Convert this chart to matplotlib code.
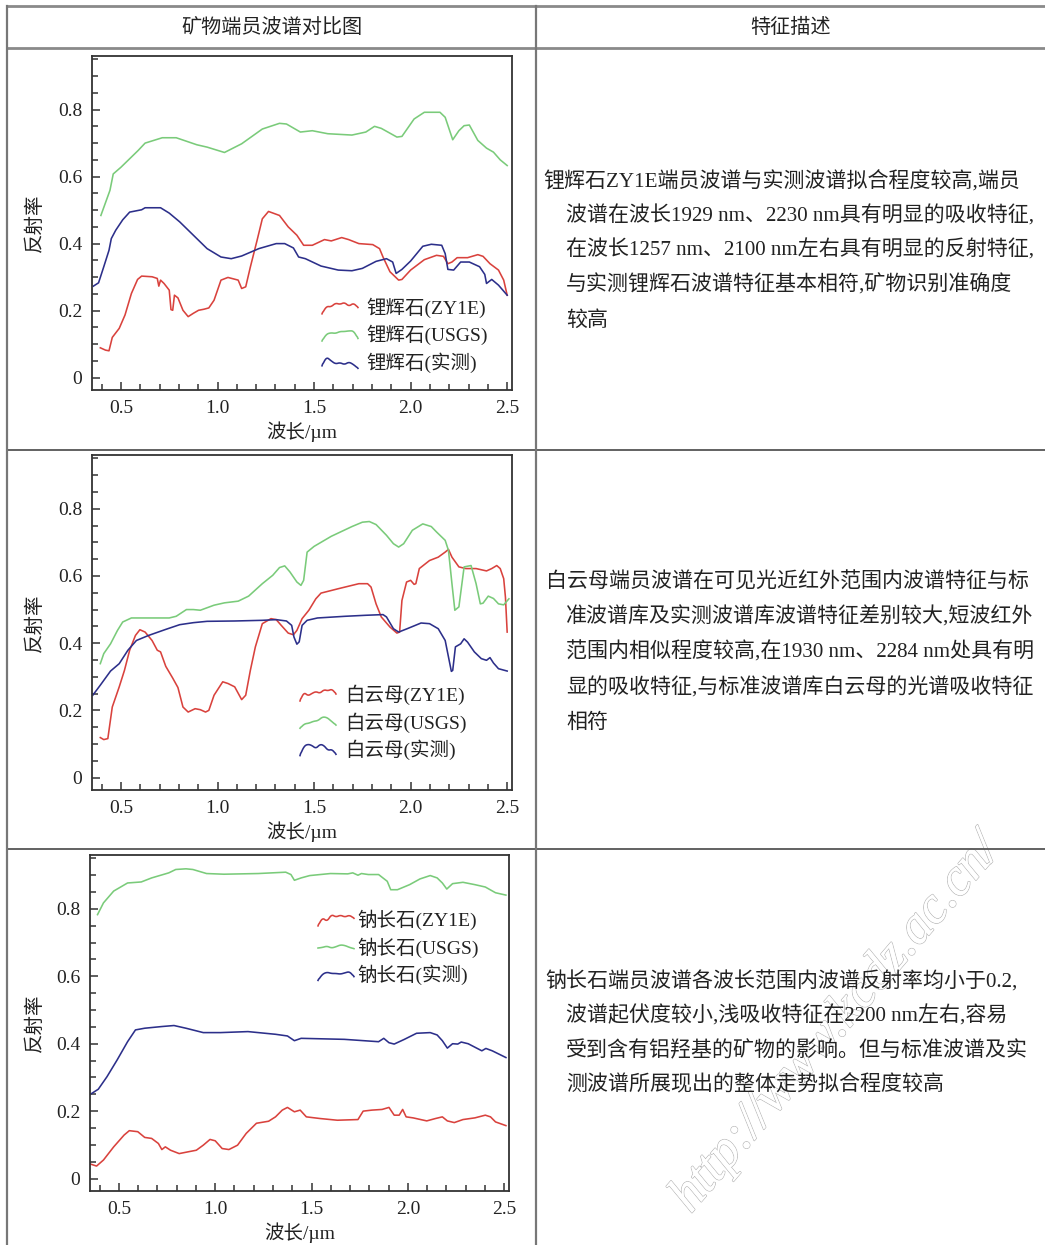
import numpy as np
import matplotlib
matplotlib.use("Agg")
import matplotlib.pyplot as plt
from matplotlib.lines import Line2D
from matplotlib.legend_handler import HandlerBase
from matplotlib.ticker import MultipleLocator, FixedLocator, FixedFormatter
import matplotlib.patheffects as pe

FAM = ['Liberation Serif', 'Noto Sans CJK SC', 'DejaVu Sans']
plt.rcParams['font.family'] = FAM

# ---------------- data ----------------
x_ticks = [0.5, 1.0, 1.5, 2.0, 2.5]
x_tick_labels = ["0.5", "1.0", "1.5", "2.0", "2.5"]
y_ticks = [0, 0.2, 0.4, 0.6, 0.8]
y_tick_labels = ["0", "0.2", "0.4", "0.6", "0.8"]
x_label = "波长/µm"
y_label = "反射率"
header_left = "矿物端员波谱对比图"
header_right = "特征描述"

# Chart 1: 锂辉石
li_labels = ["锂辉石(ZY1E)", "锂辉石(USGS)", "锂辉石(实测)"]
li_usgs_x = [0.396, 0.443, 0.46, 0.5, 0.589, 0.625, 0.714, 0.786, 0.893, 0.946, 1.036, 1.125, 1.232, 1.321, 1.357,
             1.429, 1.491, 1.571, 1.696, 1.768, 1.813, 1.848, 1.929, 1.955, 2.018, 2.071, 2.152, 2.179, 2.218, 2.25,
             2.277, 2.304, 2.348, 2.393, 2.429, 2.464, 2.5]
li_usgs_y = [0.484, 0.559, 0.608, 0.628, 0.678, 0.70, 0.716, 0.716, 0.695, 0.688, 0.672, 0.698, 0.742, 0.759, 0.757,
             0.733, 0.737, 0.728, 0.724, 0.733, 0.750, 0.744, 0.718, 0.72, 0.772, 0.792, 0.792, 0.777, 0.71, 0.737,
             0.752, 0.754, 0.708, 0.685, 0.673, 0.65, 0.633]
li_zy1e_x = [0.393, 0.42, 0.438, 0.455, 0.491, 0.521, 0.554, 0.586, 0.607, 0.661, 0.688, 0.696, 0.705, 0.723, 0.75,
             0.759, 0.768, 0.777, 0.795, 0.821, 0.848, 0.875, 0.902, 0.929, 0.955, 0.982, 1.018, 1.054, 1.107, 1.125,
             1.146, 1.17, 1.205, 1.232, 1.264, 1.321, 1.366, 1.411, 1.446, 1.491, 1.554, 1.589, 1.643, 1.679, 1.732,
             1.804, 1.839, 1.857, 1.893, 1.938, 1.955, 2.0, 2.071, 2.134, 2.17, 2.193, 2.214, 2.241, 2.295, 2.348,
             2.375, 2.411, 2.455, 2.482, 2.5]
li_zy1e_y = [0.089, 0.082, 0.080, 0.12, 0.147, 0.187, 0.251, 0.293, 0.303, 0.301, 0.296, 0.273, 0.291, 0.281, 0.261,
             0.203, 0.201, 0.246, 0.238, 0.201, 0.182, 0.192, 0.201, 0.204, 0.208, 0.231, 0.291, 0.299, 0.291, 0.266,
             0.271, 0.33, 0.41, 0.474, 0.496, 0.484, 0.45, 0.425, 0.395, 0.395, 0.412, 0.408, 0.418, 0.412, 0.40,
             0.397, 0.385, 0.36, 0.316, 0.291, 0.293, 0.321, 0.352, 0.365, 0.362, 0.34, 0.345, 0.358, 0.358, 0.367,
             0.362, 0.34, 0.321, 0.291, 0.246]
li_meas_x = [0.357, 0.384, 0.411, 0.438, 0.45, 0.473, 0.509, 0.545, 0.607, 0.625, 0.705, 0.75, 0.804, 0.875, 0.946,
             1.018, 1.071, 1.125, 1.214, 1.304, 1.348, 1.393, 1.42, 1.455, 1.536, 1.625, 1.696, 1.75, 1.821, 1.875,
             1.907, 1.925, 1.955, 2.0, 2.063, 2.107, 2.161, 2.179, 2.193, 2.223, 2.259, 2.304, 2.357, 2.384, 2.393,
             2.42, 2.455, 2.5]
li_meas_y = [0.273, 0.283, 0.331, 0.38, 0.415, 0.44, 0.471, 0.494, 0.501, 0.507, 0.507, 0.491, 0.465, 0.425, 0.385,
             0.36, 0.355, 0.363, 0.385, 0.40, 0.40, 0.387, 0.36, 0.355, 0.333, 0.321, 0.319, 0.326, 0.347, 0.355,
             0.345, 0.311, 0.323, 0.348, 0.392, 0.398, 0.395, 0.37, 0.323, 0.321, 0.345, 0.345, 0.331, 0.308, 0.281,
             0.293, 0.276, 0.246]

# Chart 2: 白云母
bai_labels = ["白云母(ZY1E)", "白云母(USGS)", "白云母(实测)"]
bai_usgs_x = [0.393, 0.411, 0.446, 0.482, 0.509, 0.554, 0.625, 0.75, 0.786, 0.839, 0.875, 0.911, 0.982, 1.036, 1.107,
              1.161, 1.232, 1.286, 1.321, 1.348, 1.375, 1.411, 1.432, 1.446, 1.464, 1.5, 1.589, 1.696, 1.75, 1.786,
              1.821, 1.875, 1.911, 1.938, 1.964, 2.009, 2.063, 2.107, 2.134, 2.179, 2.196, 2.214, 2.229, 2.25, 2.277,
              2.313, 2.339, 2.361, 2.375, 2.402, 2.429, 2.455, 2.482, 2.509]
bai_usgs_y = [0.339, 0.369, 0.398, 0.438, 0.463, 0.475, 0.475, 0.475, 0.48, 0.50, 0.50, 0.498, 0.513, 0.52, 0.525,
              0.54, 0.577, 0.602, 0.625, 0.63, 0.612, 0.582, 0.572, 0.587, 0.671, 0.688, 0.718, 0.747, 0.76, 0.762,
              0.753, 0.721, 0.696, 0.686, 0.696, 0.736, 0.755, 0.747, 0.731, 0.706, 0.676, 0.577, 0.498, 0.508, 0.627,
              0.631, 0.577, 0.517, 0.519, 0.54, 0.533, 0.517, 0.514, 0.532]
bai_zy1e_x = [0.393, 0.411, 0.432, 0.443, 0.455, 0.491, 0.518, 0.545, 0.575, 0.598, 0.625, 0.661, 0.688, 0.705, 0.732,
              0.768, 0.795, 0.821, 0.848, 0.884, 0.911, 0.938, 0.955, 0.982, 1.027, 1.054, 1.089, 1.125, 1.146, 1.17,
              1.196, 1.232, 1.277, 1.304, 1.33, 1.366, 1.393, 1.411, 1.438, 1.473, 1.509, 1.536, 1.625, 1.732, 1.777,
              1.795, 1.821, 1.848, 1.893, 1.929, 1.943, 1.955, 1.979, 2.0, 2.018, 2.027, 2.045, 2.098, 2.143, 2.179,
              2.196, 2.214, 2.25, 2.286, 2.339, 2.393, 2.42, 2.446, 2.464, 2.482, 2.491, 2.5]
bai_zy1e_y = [0.119, 0.113, 0.116, 0.161, 0.21, 0.27, 0.319, 0.379, 0.423, 0.44, 0.433, 0.408, 0.379, 0.374, 0.331,
              0.296, 0.268, 0.21, 0.195, 0.205, 0.202, 0.195, 0.2, 0.245, 0.285, 0.28, 0.27, 0.232, 0.245, 0.319,
              0.389, 0.458, 0.473, 0.47, 0.453, 0.43, 0.425, 0.438, 0.473, 0.498, 0.532, 0.549, 0.562, 0.577, 0.577,
              0.567, 0.517, 0.478, 0.448, 0.43, 0.433, 0.527, 0.582, 0.587, 0.575, 0.577, 0.622, 0.646, 0.656, 0.671,
              0.679, 0.656, 0.627, 0.622, 0.622, 0.615, 0.622, 0.631, 0.622, 0.592, 0.537, 0.433]
bai_meas_x = [0.354, 0.393, 0.446, 0.491, 0.536, 0.58, 0.643, 0.732, 0.804, 0.875, 0.946, 1.089, 1.232, 1.304, 1.357,
              1.384, 1.396, 1.411, 1.423, 1.438, 1.464, 1.518, 1.661, 1.768, 1.857, 1.875, 1.911, 1.938, 1.982, 2.054,
              2.098, 2.143, 2.179, 2.196, 2.211, 2.218, 2.232, 2.259, 2.277, 2.295, 2.33, 2.366, 2.393, 2.411, 2.429,
              2.455, 2.5]
bai_meas_y = [0.245, 0.275, 0.317, 0.339, 0.379, 0.408, 0.423, 0.441, 0.455, 0.461, 0.465, 0.466, 0.468, 0.47, 0.466,
              0.453, 0.418, 0.397, 0.404, 0.453, 0.468, 0.475, 0.48, 0.483, 0.485, 0.478, 0.443, 0.433, 0.443, 0.46,
              0.458, 0.443, 0.408, 0.359, 0.316, 0.319, 0.389, 0.398, 0.413, 0.403, 0.374, 0.354, 0.349, 0.357, 0.341,
              0.324, 0.317]

# Chart 3: 钠长石
na_labels = ["钠长石(ZY1E)", "钠长石(USGS)", "钠长石(实测)"]
na_usgs_x = [0.389, 0.42, 0.473, 0.545, 0.616, 0.67, 0.759, 0.795, 0.848, 0.884, 0.955, 1.045, 1.223, 1.366, 1.393,
             1.411, 1.446, 1.491, 1.598, 1.688, 1.714, 1.741, 1.759, 1.795, 1.848, 1.893, 1.911, 1.946, 2.009, 2.063,
             2.116, 2.152, 2.179, 2.202, 2.232, 2.286, 2.348, 2.402, 2.455, 2.509]
na_usgs_y = [0.783, 0.818, 0.853, 0.877, 0.880, 0.892, 0.907, 0.917, 0.919, 0.917, 0.905, 0.903, 0.905, 0.909, 0.902,
             0.885, 0.892, 0.899, 0.905, 0.904, 0.907, 0.90, 0.905, 0.902, 0.902, 0.882, 0.857, 0.857, 0.872, 0.889,
             0.899, 0.892, 0.877, 0.859, 0.875, 0.879, 0.872, 0.865, 0.848, 0.841]
na_zy1e_x = [0.352, 0.384, 0.42, 0.473, 0.527, 0.554, 0.598, 0.634, 0.67, 0.705, 0.723, 0.741, 0.768, 0.813, 0.857,
             0.902, 0.938, 0.973, 1.0, 1.036, 1.071, 1.116, 1.161, 1.214, 1.277, 1.313, 1.348, 1.375, 1.411, 1.441,
             1.473, 1.545, 1.634, 1.741, 1.768, 1.813, 1.866, 1.902, 1.929, 1.955, 1.973, 1.991, 2.027, 2.098, 2.143,
             2.179, 2.205, 2.241, 2.286, 2.348, 2.402, 2.429, 2.455, 2.509]
na_zy1e_y = [0.043, 0.037, 0.055, 0.094, 0.129, 0.142, 0.139, 0.122, 0.119, 0.104, 0.086, 0.094, 0.084, 0.074, 0.079,
             0.084, 0.099, 0.116, 0.112, 0.089, 0.086, 0.099, 0.134, 0.164, 0.17, 0.183, 0.203, 0.211, 0.198, 0.203,
             0.183, 0.178, 0.173, 0.175, 0.2, 0.203, 0.205, 0.211, 0.188, 0.188, 0.205, 0.183, 0.18, 0.171, 0.178,
             0.183, 0.171, 0.166, 0.175, 0.18, 0.188, 0.183, 0.168, 0.157]
na_meas_x = [0.352, 0.393, 0.438, 0.491, 0.545, 0.586, 0.634, 0.723, 0.786, 0.848, 0.938, 1.027, 1.17, 1.313, 1.375,
             1.411, 1.446, 1.67, 1.848, 1.875, 1.902, 1.929, 1.982, 2.045, 2.116, 2.152, 2.179, 2.205, 2.232, 2.259,
             2.277, 2.313, 2.357, 2.384, 2.405, 2.438, 2.509]
na_meas_y = [0.25, 0.265, 0.302, 0.352, 0.406, 0.441, 0.446, 0.451, 0.454, 0.446, 0.433, 0.433, 0.436, 0.428, 0.423,
             0.409, 0.416, 0.413, 0.406, 0.416, 0.403, 0.399, 0.413, 0.431, 0.433, 0.426, 0.409, 0.387, 0.40, 0.399,
             0.405, 0.40, 0.387, 0.379, 0.386, 0.379, 0.359]

desc1 = ["锂辉石ZY1E端员波谱与实测波谱拟合程度较高,端员",
         "波谱在波长1929 nm、2230 nm具有明显的吸收特征,",
         "在波长1257 nm、2100 nm左右具有明显的反射特征,",
         "与实测锂辉石波谱特征基本相符,矿物识别准确度",
         "较高"]
desc2 = ["白云母端员波谱在可见光近红外范围内波谱特征与标",
         "准波谱库及实测波谱库波谱特征差别较大,短波红外",
         "范围内相似程度较高,在1930 nm、2284 nm处具有明",
         "显的吸收特征,与标准波谱库白云母的光谱吸收特征",
         "相符"]
desc3 = ["钠长石端员波谱各波长范围内波谱反射率均小于0.2,",
         "波谱起伏度较小,浅吸收特征在2200 nm左右,容易",
         "受到含有铝羟基的矿物的影响。但与标准波谱及实",
         "测波谱所展现出的整体走势拟合程度较高"]
watermark = "http://www.kcdz.ac.cn/"

# ---------------- style ----------------
RED = "#d9423d"
GREEN = "#7acb7a"
BLUE = "#2c2f8a"
W, H = 1045, 1245
fig = plt.figure(figsize=(W / 100, H / 100), dpi=100)
fig.patch.set_facecolor("white")


def fx(px):
    return px / W


def fy(py):
    return 1 - py / H


class WavyHandler(HandlerBase):
    """Small smooth squiggle used as legend key (styling only)."""
    def __init__(self, pattern):
        super().__init__()
        p = np.asarray(pattern, dtype=float)
        t0 = np.linspace(0, 1, len(p))
        t1 = np.linspace(0, 1, 60)
        q = np.interp(t1, t0, p)
        k = np.ones(7) / 7
        qs = np.convolve(np.pad(q, 3, mode="edge"), k, mode="valid")
        qs[0], qs[-1] = q[0], q[-1]
        self.t = t1
        self.q = qs

    def create_artists(self, legend, orig_handle, xdescent, ydescent, width, height, fontsize, trans):
        x = -xdescent + self.t * width
        y = -ydescent + height * (0.5 + 0.85 * (self.q - 0.5))
        ln = Line2D(x, y, color=orig_handle.get_color(), lw=orig_handle.get_linewidth())
        ln.set_transform(trans)
        return [ln]


# table lines
line_col = "#6a6a6a"
def hline(y, x0=7, x1=1045, lw=1.6, c=line_col):
    fig.add_artist(Line2D([fx(x0), fx(x1)], [fy(y), fy(y)], color=c, lw=lw))
def vline(x, y0=6, y1=1245, lw=1.6, c=line_col):
    fig.add_artist(Line2D([fx(x), fx(x)], [fy(y0), fy(y1)], color=c, lw=lw))

hline(6, c="#8a8a8a", lw=2.0)
hline(48, c="#8a8a8a", lw=2.0)
hline(450, c="#555555", lw=1.3)
hline(849, c="#555555", lw=1.3)
vline(7, c="#777777", lw=1.6)
vline(536, c="#777777", lw=1.6)

fig.text(fx(272), fy(28), header_left, ha="center", va="center", fontsize=14.5, color="#222222")
fig.text(fx(790), fy(28), header_right, ha="center", va="center", fontsize=14.5, color="#222222")

charts = [
    dict(top=56, bottom=390, left=92, right=512,
         series=[(li_zy1e_x, li_zy1e_y, RED), (li_usgs_x, li_usgs_y, GREEN), (li_meas_x, li_meas_y, BLUE)],
         labels=li_labels, leg_anchor=(322, 298), textpad=0.45,
         patterns=[[0.0, 0.6, 0.55, 0.85, 0.75, 0.9, 0.6, 0.85, 0.5],
                   [0.0, 0.55, 0.65, 0.6, 0.75, 0.75, 0.8, 0.8, 0.2],
                   [0.2, 0.9, 0.6, 0.35, 0.45, 0.3, 0.5, 0.3, 0.0]]),
    dict(top=455, bottom=790, left=92, right=512,
         series=[(bai_zy1e_x, bai_zy1e_y, RED), (bai_usgs_x, bai_usgs_y, GREEN), (bai_meas_x, bai_meas_y, BLUE)],
         labels=bai_labels, leg_anchor=(300, 685), textpad=0.45,
         patterns=[[0.0, 0.7, 0.4, 0.6, 0.75, 0.6, 0.9, 0.8, 0.95, 0.55],
                   [0.0, 0.35, 0.4, 0.55, 0.6, 0.9, 0.85, 0.55, 0.25],
                   [0.0, 0.75, 0.9, 0.8, 0.55, 0.9, 0.8, 0.4, 0.5, 0.1]]),
    dict(top=855, bottom=1191, left=90, right=509,
         series=[(na_zy1e_x, na_zy1e_y, RED), (na_usgs_x, na_usgs_y, GREEN), (na_meas_x, na_meas_y, BLUE)],
         labels=na_labels, leg_anchor=(318, 910), textpad=0.15,
         patterns=[[0.0, 0.65, 0.35, 0.9, 0.7, 0.85, 0.7, 0.85, 0.6],
                   [0.4, 0.45, 0.55, 0.4, 0.5, 0.65, 0.6, 0.45, 0.35],
                   [0.0, 0.5, 0.65, 0.55, 0.55, 0.5, 0.6, 0.7, 0.3]]),
]

for ch in charts:
    ax = fig.add_axes([fx(ch["left"]), fy(ch["bottom"]), fx(ch["right"] - ch["left"]),
                       (ch["bottom"] - ch["top"]) / H])
    handles = []
    for (xs, ys, col), lab in zip(ch["series"], ch["labels"]):
        h, = ax.plot(xs, ys, color=col, lw=1.15, label=lab)
        handles.append(h)
    ax.set_xlim(0.35, 2.525)
    ax.set_ylim(-0.037, 0.96)
    ax.xaxis.set_major_locator(FixedLocator(x_ticks))
    ax.xaxis.set_major_formatter(FixedFormatter(x_tick_labels))
    ax.yaxis.set_major_locator(FixedLocator(y_ticks))
    ax.yaxis.set_major_formatter(FixedFormatter(y_tick_labels))
    ax.xaxis.set_minor_locator(MultipleLocator(0.1))
    ax.yaxis.set_minor_locator(MultipleLocator(0.05))
    ax.tick_params(which="both", direction="in", top=False, right=False, colors="#333333",
                   labelsize=14, labelcolor="#222222", width=1.1)
    ax.tick_params(which="major", length=5.5, pad=7)
    ax.tick_params(which="minor", length=4)
    for sp in ax.spines.values():
        sp.set_color("#333333")
        sp.set_linewidth(1.3)
    ax.set_xlabel(x_label, fontsize=14, color="#222222", labelpad=3)
    ax.set_ylabel(y_label, fontsize=14, color="#222222")
    ax.set_facecolor("white")
    ax.yaxis.set_label_coords(-(ch["left"] - 44) / (ch["right"] - ch["left"]), 0.5)
    ax_w = ch["right"] - ch["left"]
    ax_h = ch["bottom"] - ch["top"]
    ax_x = (ch["leg_anchor"][0] - ch["left"]) / ax_w
    ax_y = (ch["bottom"] - ch["leg_anchor"][1]) / ax_h
    handler_map = {h: WavyHandler(p) for h, p in zip(handles, ch["patterns"])}
    ax.legend(handles=handles, loc="upper left", bbox_to_anchor=(ax_x, ax_y), frameon=False,
              fontsize=14, handlelength=1.85, handleheight=0.8, handletextpad=ch["textpad"],
              labelspacing=0.35, borderpad=0, borderaxespad=0, handler_map=handler_map,
              labelcolor="#222222")

# descriptions
for lines, x_first, ys in [(desc1, 543, [182, 216, 250, 285, 321]),
                           (desc2, 546, [582, 617, 652, 688, 723]),
                           (desc3, 545, [982, 1016, 1051, 1085])]:
    for i, (ln, y) in enumerate(zip(lines, ys)):
        x = x_first if i == 0 else 566
        fig.text(fx(x), fy(y), ln, ha="left", va="center", fontsize=15.1, color="#222222")

# watermark (outlined text)
fig.text(fx(836), fy(1024), watermark, ha="center", va="center", rotation=49.5, fontsize=38,
         fontstyle="italic", color="white", zorder=0.5,
         path_effects=[pe.withStroke(linewidth=1.1, foreground="#b8b8b8"), pe.Normal()])

fig.savefig("out.png", dpi=100, facecolor="white")
